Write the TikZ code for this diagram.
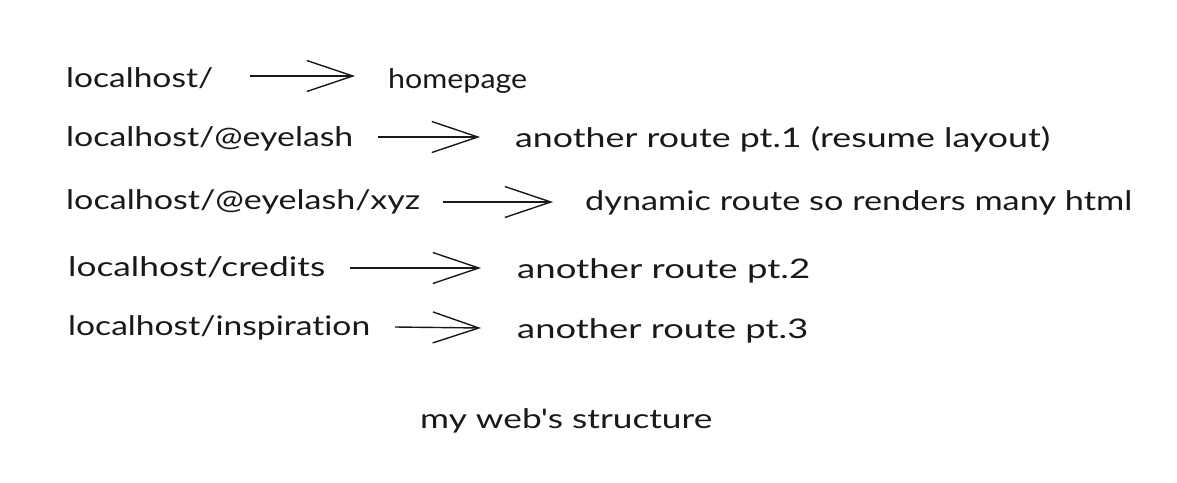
\documentclass[tikz,border=0pt]{standalone}
\usepackage{fontspec}
\setmainfont[Ligatures={TeXOff,CommonOff}]{Lato}
\usetikzlibrary{arrows.meta}
\newcommand\fitw[2]{\resizebox{#1pt}{\height}{#2}}
\tikzset{
  lbl/.style={anchor=base west, inner sep=0pt, font=\fontsize{27}{30}\selectfont, text=black!90},
  conn/.style={line width=1.4pt, black!90, -{Straight Barb[length=46pt,width=31pt,line width=1.4pt]}},
}
\begin{document}
\begin{tikzpicture}[x=1pt,y=-1pt]
\useasboundingbox[fill=white] (0,0) rectangle (1177,482);
% left texts
\node[lbl] (l1) at (66,87)  {\fitw{147}{localhost/}};
\node[lbl] (l2) at (66,146) {\fitw{287}{localhost/@eyelash}};
\node[lbl] (l3) at (66,209) {\fitw{354}{localhost/@eyelash/xyz}};
\node[lbl] (l4) at (68,276) {\fitw{257}{localhost/credits}};
\node[lbl] (l5) at (68,335) {\fitw{302}{localhost/inspirat{}ion}};
% right texts
\node[lbl] (r1) at (388,88)  {\fitw{139}{homepage}};
\node[lbl] (r2) at (515,147) {\fitw{535}{another route pt.1 (resume layout)}};
\node[lbl] (r3) at (585,210) {\fitw{547}{dynamic route so renders many html}};
\node[lbl] (r4) at (517,278) {\fitw{293}{another route pt.2}};
\node[lbl] (r5) at (517,338) {\fitw{291}{another route pt.3}};
% title
\node[lbl] (t) at (420,428) {\fitw{292}{my web's structure}};
% arrow endpoints
\coordinate (a1s) at (250,76);  \coordinate (a1e) at (355,76);
\coordinate (a2s) at (378,137); \coordinate (a2e) at (480,137);
\coordinate (a3s) at (443,202); \coordinate (a3e) at (553,202);
\coordinate (a4s) at (350,268); \coordinate (a4e) at (481,268);
\coordinate (a5s) at (395,327); \coordinate (a5e) at (481,328);
\draw[conn] (a1s) -- (a1e);
\draw[conn] (a2s) -- (a2e);
\draw[conn] (a3s) -- (a3e);
\draw[conn] (a4s) -- (a4e);
\draw[conn] (a5s) -- (a5e);
\end{tikzpicture}
\end{document}
